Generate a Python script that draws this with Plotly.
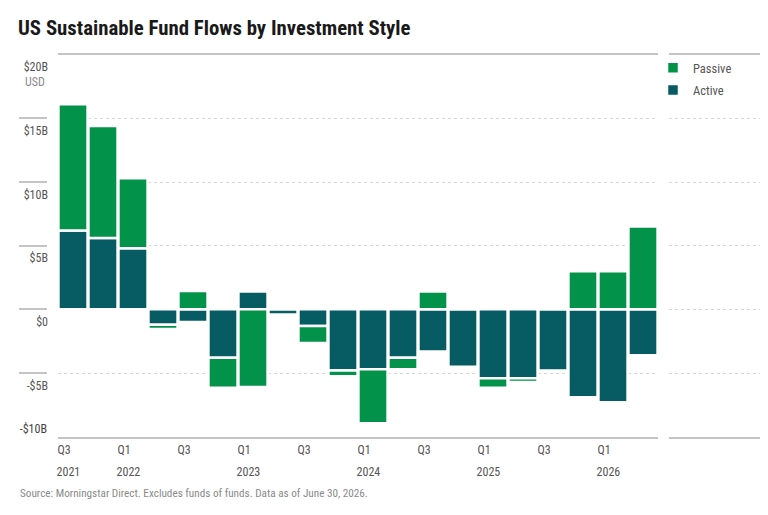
import plotly.graph_objects as go

quarters = [
    "Q3 2021", "Q4 2021", "Q1 2022", "Q2 2022", "Q3 2022", "Q4 2022",
    "Q1 2023", "Q2 2023", "Q3 2023", "Q4 2023", "Q1 2024", "Q2 2024",
    "Q3 2024", "Q4 2024", "Q1 2025", "Q2 2025", "Q3 2025", "Q4 2025",
    "Q1 2026", "Q2 2026",
]
# billions USD
active = [6.2, 5.6, 4.8, -1.2, -1.0, -3.8, 1.4, -0.4, -1.3, -4.8,
          -4.7, -3.8, -3.3, -4.5, -5.4, -5.4, -4.8, -6.9, -7.3, -3.6]
passive = [9.9, 8.8, 5.5, -0.35, 1.45, -2.35, -6.1, 0.0, -1.35, -0.45,
           -4.25, -0.9, 1.4, 0.1, -0.75, -0.3, 0.0, 3.0, 3.0, 6.5]
y_ticks = [-10, -5, 0, 5, 10, 15, 20]
y_labels = ["-$10B", "-$5B", "$0", "$5B", "$10B", "$15B", "$20B"]

PASSIVE = "#03924a"
ACTIVE = "#075c63"
FONT = "Roboto Condensed, Roboto, sans-serif"
W, H = 768, 515
PAGE = 8  # default body margin of the html page
LINE = "#c4c4c4"


def fx(p):
    return (p - PAGE) / W


def fy(p):
    return 1 - (p - PAGE) / H


x = list(range(len(quarters)))
q_ticks = [i for i, q in enumerate(quarters) if q.split()[0] in ("Q1", "Q3")]
yr_ticks = [i for i in q_ticks if i == 0 or quarters[i].startswith("Q1")]
x_range = [-0.5, len(quarters) - 0.5]
y_range = [y_ticks[0], y_ticks[-1]]
y_dom = [fy(436.7), fy(54.7)]
x_dom = [fx(58), fx(658)]

fig = go.Figure()
for name, vals, color, rank in [("Active", active, ACTIVE, 2), ("Passive", passive, PASSIVE, 1)]:
    fig.add_trace(
        go.Bar(
            x=x,
            y=vals,
            name=name,
            legendgroup=name,
            legendrank=rank,
            marker=dict(color=color, line=dict(color="white", width=2.5)),
            width=0.97,
            hovertemplate="%{y:.1f}B<extra>" + name + "</extra>",
        )
    )

# empty traces so the helper axes get drawn
for xa, ya in [("x2", "y2"), ("x3", "y"), ("x4", "y")]:
    fig.add_trace(
        go.Scatter(x=[None], y=[None], xaxis=xa, yaxis=ya,
                   showlegend=False, hoverinfo="skip")
    )

axis_off = dict(showticklabels=False, showgrid=False, zeroline=False,
                ticks="", automargin=False)

fig.update_layout(
    width=W,
    height=H,
    barmode="relative",
    plot_bgcolor="white",
    paper_bgcolor="white",
    margin=dict(l=0, r=0, t=0, b=0, autoexpand=False),
    font=dict(family=FONT, size=12, color="#555555"),
    title=dict(
        text="<b>US Sustainable Fund Flows by Investment Style</b>",
        x=fx(18),
        xanchor="left",
        y=fy(28),
        yanchor="middle",
        font=dict(family=FONT, size=20.8, color="#1a1a1a"),
    ),
    showlegend=True,
    legend=dict(
        x=fx(653),
        y=fy(53),
        xanchor="left",
        yanchor="top",
        traceorder="grouped",
        tracegroupgap=3,
        font=dict(size=12.5, color="#555555"),
        itemwidth=30,
        bgcolor="rgba(0,0,0,0)",
    ),
    xaxis=dict(
        domain=x_dom,
        range=x_range,
        tickmode="array",
        tickvals=[i - 0.48 for i in q_ticks],
        ticktext=[quarters[i].split()[0] for i in q_ticks],
        ticklabelposition="outside right",
        ticklabelstandoff=1,
        ticklabelshift=-2,
        ticks="",
        showgrid=False,
        zeroline=False,
        showline=True,
        mirror=True,
        linecolor=LINE,
        linewidth=2,
        anchor="y",
        automargin=False,
    ),
    xaxis4=dict(
        overlaying="x",
        domain=x_dom,
        range=x_range,
        tickmode="array",
        tickvals=[i - 0.48 for i in yr_ticks],
        ticktext=[quarters[i].split()[1] for i in yr_ticks],
        ticklabelposition="outside right",
        ticklabelstandoff=26,
        ticklabelshift=-2,
        side="bottom",
        anchor="y",
        ticks="",
        showgrid=False,
        zeroline=False,
        showline=False,
        automargin=False,
    ),
    yaxis=dict(
        domain=y_dom,
        range=y_range,
        tickmode="array",
        tickvals=y_ticks,
        ticktext=[""] + y_labels[1:],
        ticklabelposition="outside bottom",
        ticklabelstandoff=9,
        ticklabelshift=4,
        ticks="",
        showgrid=True,
        gridcolor="#d6d6d6",
        griddash="dot",
        gridwidth=1,
        zeroline=False,
        anchor="x",
        automargin=False,
    ),
    xaxis2=dict(domain=[fx(19), fx(47)], range=[0, 1], anchor="y2", **axis_off),
    yaxis2=dict(
        domain=y_dom,
        range=y_range,
        anchor="x2",
        side="right",
        tickmode="array",
        tickvals=y_ticks,
        ticktext=[y_labels[0]] + [""] * (len(y_ticks) - 1),
        ticklabelposition="inside top",
        ticklabelstandoff=-3,
        ticks="",
        showgrid=True,
        gridcolor=LINE,
        gridwidth=2,
        zeroline=False,
        showline=False,
        automargin=False,
    ),
    xaxis3=dict(
        domain=[fx(669), 1],
        range=[0, 1],
        anchor="y",
        showline=True,
        mirror=True,
        linecolor=LINE,
        linewidth=2,
        **axis_off,
    ),
    annotations=[
        dict(
            text="USD",
            x=fx(47),
            y=fy(82),
            xref="paper",
            yref="paper",
            xanchor="right",
            yanchor="middle",
            showarrow=False,
            font=dict(size=12, color="#8a8a8a"),
        ),
        dict(
            text="Source: Morningstar Direct. Excludes funds of funds. Data as of June 30, 2026.",
            x=fx(18),
            y=fy(493),
            xref="paper",
            yref="paper",
            xanchor="left",
            yanchor="middle",
            showarrow=False,
            font=dict(size=11.2, color="#8a8a8a"),
        ),
    ],
)

fig.write_html("out.html")
